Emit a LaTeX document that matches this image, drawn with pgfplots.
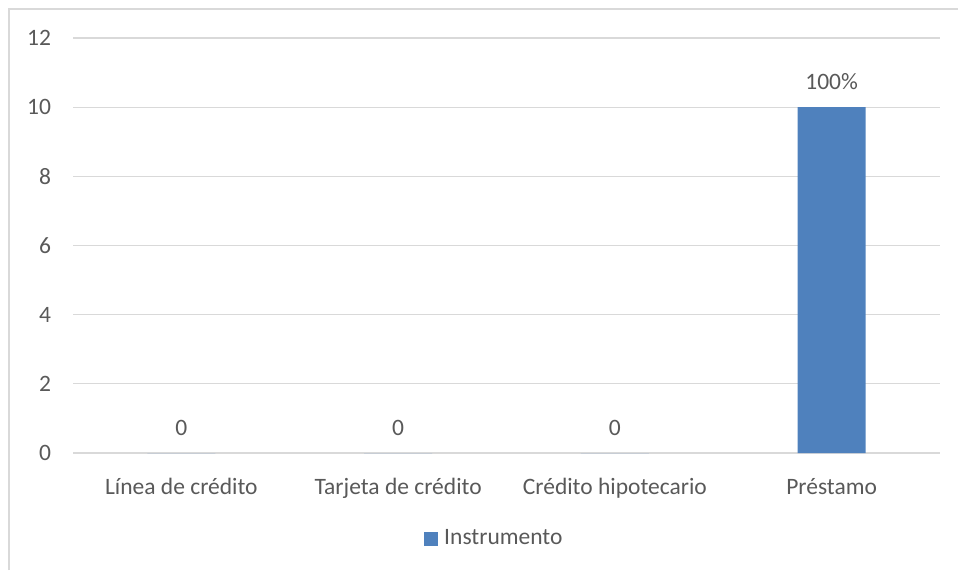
\documentclass[border=0pt]{standalone}
\usepackage{fontspec}
\setmainfont{Carlito}
\usepackage{pgfplots}
\pgfplotsset{compat=1.18}
\definecolor{barblue}{HTML}{4F81BD}
\definecolor{txtgray}{HTML}{595959}
\definecolor{gridgray}{HTML}{D9D9D9}
\newcommand{\chartfont}{\fontsize{23.5}{28}\selectfont}
\begin{document}
\begin{tikzpicture}[x=1pt,y=1pt]
\chartfont
\useasboundingbox (0,0) rectangle (958,570);
% chart frame
\draw[gridgray, line width=1.5pt] (9,0) -- (9,561) -- (958,561);
\begin{axis}[
  at={(73pt,117pt)}, anchor=south west,
  scale only axis, width=867pt, height=415pt,
  xmin=-0.5, xmax=3.5, ymin=0, ymax=12,
  ytick={0,2,...,12},
  xtick={0,1,2,3},
  xticklabels={Línea de crédito, Tarjeta de crédito, Crédito hipotecario, Préstamo},
  axis line style={draw=none},
  major tick length=0pt,
  ymajorgrids, grid style={gridgray, line width=1.2pt},
  every tick label/.append style={font=\chartfont, text=txtgray},
  /pgf/number format/assume math mode=true,
  yticklabel style={xshift=-14pt},
  xticklabel style={yshift=-17pt},
  point meta=explicit symbolic,
  nodes near coords,
  every node near coord/.append style={anchor=base, yshift=18pt, font=\chartfont, text=txtgray},
  legend style={at={(axis description cs:0.486,0)}, anchor=center, yshift=-86pt,
    draw=none, fill=none, font=\chartfont, text=txtgray,
    inner sep=0pt, legend cell align=left},
  legend image code/.code={\fill[barblue] (0pt,-7pt) rectangle (14pt,7pt); \path (18pt,0pt);},
]
\addplot[ybar, bar width=68pt, fill=barblue, draw=none, bar shift=0pt]
  coordinates {(0,0) [0] (1,0) [0] (2,0) [0] (3,10) [100\%]};
\addlegendentry{Instrumento}
\end{axis}
\end{tikzpicture}
\end{document}
